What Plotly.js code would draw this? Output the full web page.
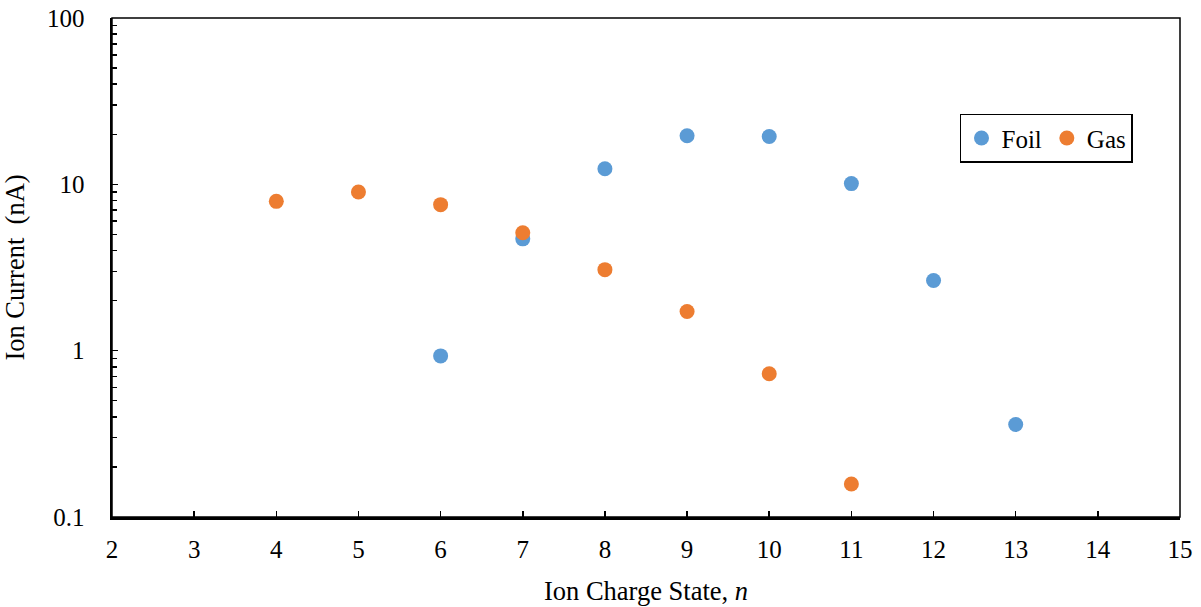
<!DOCTYPE html>
<html>
<head>
<meta charset="utf-8">
<script src="https://cdn.plot.ly/plotly-3.0.1.min.js"></script>
<style>html,body{margin:0;padding:0;background:#fff;}#chart{width:1201px;height:607px;}</style>
</head>
<body>
<div id="chart"></div>
<script>
const foilCharge = [6, 7, 8, 9, 10, 11, 12, 13];
const foilCurrent = [0.93, 4.7, 12.4, 19.6, 19.4, 10.1, 2.64, 0.36];
const gasCharge = [4, 5, 6, 7, 8, 9, 10, 11];
const gasCurrent = [7.9, 9.0, 7.55, 5.12, 3.07, 1.72, 0.727, 0.158];
const xTicks = [2, 3, 4, 5, 6, 7, 8, 9, 10, 11, 12, 13, 14, 15];
const yTicks = [0.1, 1, 10, 100];
const yTickText = ['0.1', '1', '10', '100'];
const yMinorTicks = [0.2, 0.3, 0.4, 0.5, 0.6, 0.7, 0.8, 0.9, 2, 3, 4, 5, 6, 7, 8, 9, 20, 30, 40, 50, 60, 70, 80, 90];

const fam = 'Liberation Serif, Times New Roman, serif';

const traces = [
  {x: foilCharge, y: foilCurrent, name: 'Foil', type: 'scatter', mode: 'markers',
   marker: {color: '#5B9BD5', size: 15}},
  {x: gasCharge, y: gasCurrent, name: 'Gas', type: 'scatter', mode: 'markers',
   marker: {color: '#ED7D31', size: 15}}
];

const layout = {
  width: 1201, height: 607,
  margin: {l: 112, r: 21, t: 18, b: 90},
  paper_bgcolor: '#fff', plot_bgcolor: '#fff',
  font: {family: fam, color: '#000', size: 25},
  showlegend: true,
  legend: {x: 0.794, y: 0.808, xanchor: 'left', yanchor: 'top', orientation: 'h',
    bordercolor: '#000', borderwidth: 1.5, font: {family: fam, size: 25, color: '#000'},
    itemwidth: 30, tracegroupgap: 0},
  xaxis: {
    range: [2, 15], tickvals: xTicks, ticktext: xTicks.map(String),
    ticks: 'inside', ticklen: 6, tickwidth: 1.5, tickcolor: '#000', ticklabelstandoff: 8,
    showline: true, linewidth: 2.5, linecolor: '#000', showgrid: false, zeroline: false,
    tickfont: {family: fam, size: 25, color: '#000'},
    title: {text: 'Ion Charge State, <i>n</i>', font: {family: fam, size: 26.5, color: '#000'}, standoff: 20}
  },
  yaxis: {
    type: 'log', range: [-1, 2], tickmode: 'array', tickvals: yTicks, ticktext: yTickText,
    ticks: 'inside', ticklen: 6, tickwidth: 1.5, tickcolor: '#000', ticklabelstandoff: 20,
    minor: {tickmode: 'array', tickvals: yMinorTicks, ticks: 'inside', ticklen: 5, tickwidth: 1.5, tickcolor: '#000', showgrid: false},
    showline: true, linewidth: 2.5, linecolor: '#000', showgrid: false, zeroline: false,
    tickfont: {family: fam, size: 25, color: '#000'},
    title: {text: 'Ion Current  (nA)', font: {family: fam, size: 26.5, color: '#000'}, standoff: 16}
  },
  shapes: [
    {type: 'rect', xref: 'paper', yref: 'paper', x0: 0, x1: 1, y0: 0, y1: 1,
     line: {color: '#000', width: 1.5}, layer: 'below'}
  ]
};

Plotly.newPlot('chart', traces, layout, {displayModeBar: false, staticPlot: true});
</script>
</body>
</html>
